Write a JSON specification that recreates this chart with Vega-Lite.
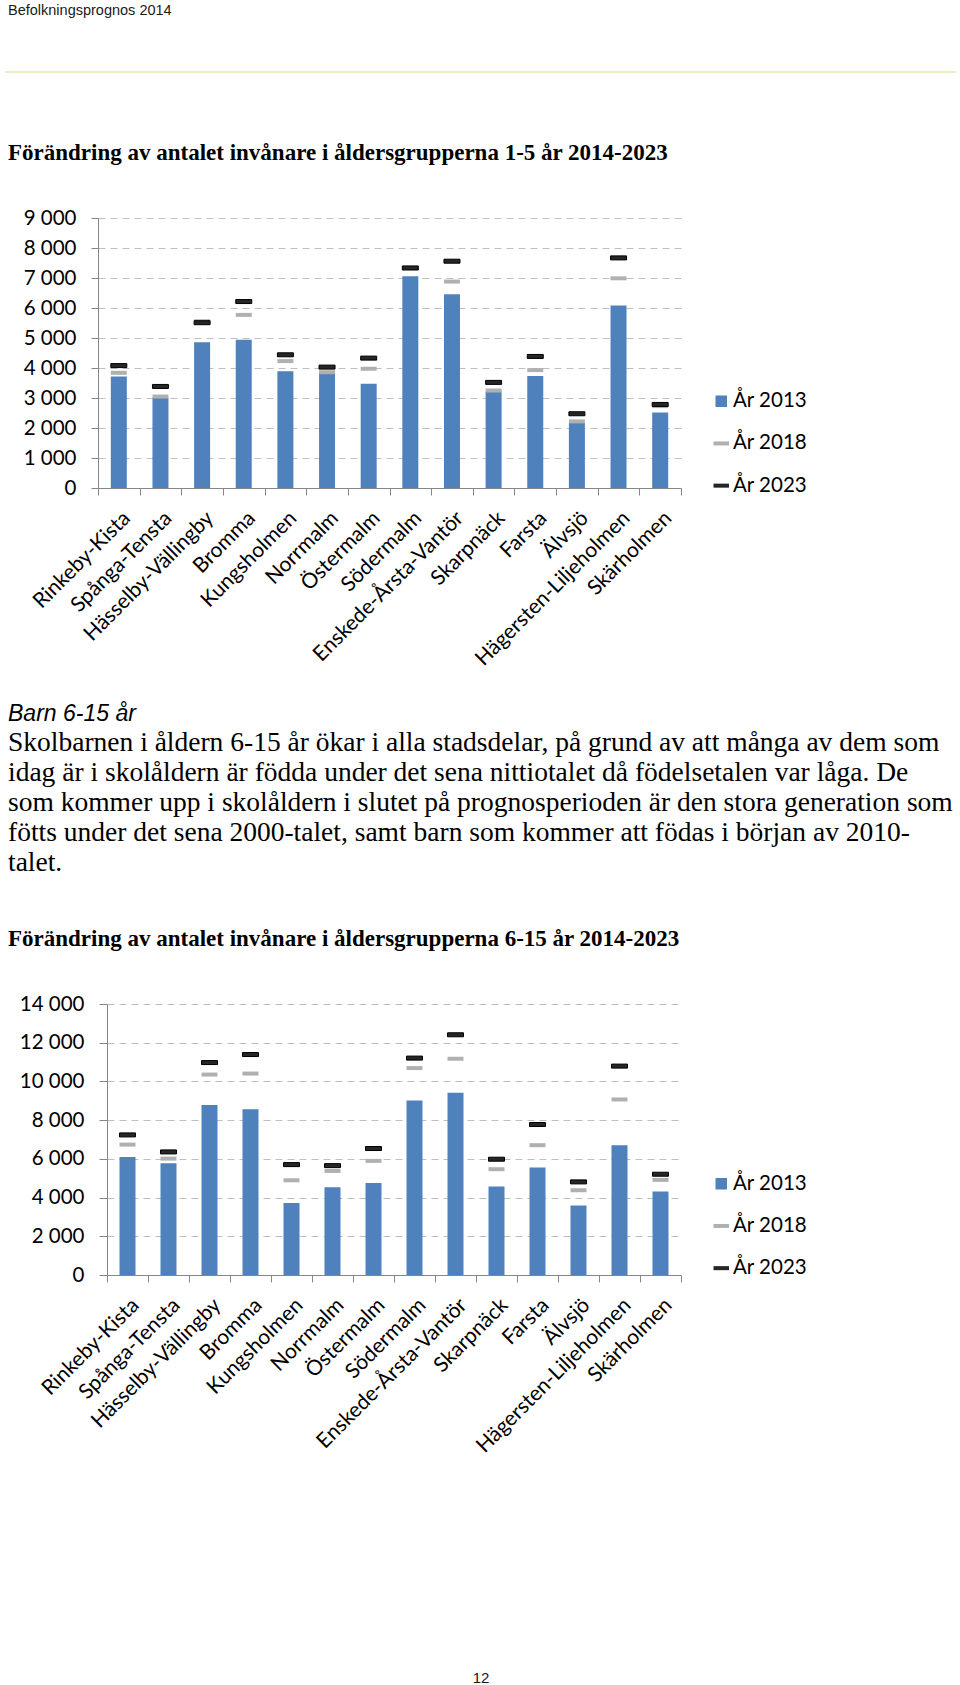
{
  "$schema": "https://vega.github.io/schema/vega-lite/v6.json",
  "background": "white",
  "padding": {"left": 4, "top": 3, "right": 0, "bottom": 0},
  "spacing": 0,
  "config": {"view": {"stroke": null}, "concat": {"spacing": 0}},
  "resolve": {"scale": {"color": "independent", "x": "independent", "y": "independent"}, "legend": {"color": "independent"}},
  "datasets": {
    "d1": [
      {"d": "Rinkeby-Kista", "y13": 3720, "y18": 3840, "y23": 4080},
      {"d": "Spånga-Tensta", "y13": 3000, "y18": 3050, "y23": 3385},
      {"d": "Hässelby-Vällingby", "y13": 4860, "y18": 5560, "y23": 5510},
      {"d": "Bromma", "y13": 4940, "y18": 5770, "y23": 6215},
      {"d": "Kungsholmen", "y13": 3895, "y18": 4230, "y23": 4440},
      {"d": "Norrmalm", "y13": 3880, "y18": 3860, "y23": 4030},
      {"d": "Östermalm", "y13": 3475, "y18": 3975, "y23": 4330},
      {"d": "Södermalm", "y13": 7060, "y18": 7320, "y23": 7335},
      {"d": "Enskede-Årsta-Vantör", "y13": 6460, "y18": 6880, "y23": 7560},
      {"d": "Skarpnäck", "y13": 3220, "y18": 3250, "y23": 3520},
      {"d": "Farsta", "y13": 3730, "y18": 3930, "y23": 4385},
      {"d": "Älvsjö", "y13": 2170, "y18": 2220, "y23": 2475},
      {"d": "Hägersten-Liljeholmen", "y13": 6080, "y18": 6990, "y23": 7670},
      {"d": "Skärholmen", "y13": 2520, "y18": 2730, "y23": 2785}
    ],
    "d2": [
      {"d": "Rinkeby-Kista", "y13": 6100, "y18": 6737, "y23": 7237},
      {"d": "Spånga-Tensta", "y13": 5772, "y18": 6013, "y23": 6358},
      {"d": "Hässelby-Vällingby", "y13": 8787, "y18": 10355, "y23": 10975},
      {"d": "Bromma", "y13": 8563, "y18": 10407, "y23": 11389},
      {"d": "Kungsholmen", "y13": 3722, "y18": 4893, "y23": 5703},
      {"d": "Norrmalm", "y13": 4531, "y18": 5376, "y23": 5651},
      {"d": "Östermalm", "y13": 4758, "y18": 5896, "y23": 6534},
      {"d": "Södermalm", "y13": 9017, "y18": 10689, "y23": 11206},
      {"d": "Enskede-Årsta-Vantör", "y13": 9413, "y18": 11172, "y23": 12410},
      {"d": "Skarpnäck", "y13": 4569, "y18": 5465, "y23": 5982},
      {"d": "Farsta", "y13": 5551, "y18": 6706, "y23": 7775},
      {"d": "Älvsjö", "y13": 3586, "y18": 4379, "y23": 4810},
      {"d": "Hägersten-Liljeholmen", "y13": 6706, "y18": 9068, "y23": 10792},
      {"d": "Skärholmen", "y13": 4310, "y18": 4913, "y23": 5206}
    ]
  },
  "vconcat": [
    {
      "width": 858, "height": 70,
      "title": {"text": "Befolkningsprognos 2014", "anchor": "start", "frame": "group", "dx": -90, "font": "Liberation Sans", "fontSize": 14.5, "fontWeight": "normal", "color": "#1a1a1a", "offset": 52.7},
      "data": {"values": [{"v": 1}]},
      "mark": {"type": "rule", "color": "#E2DC8C", "strokeWidth": 1.2},
      "encoding": {
        "x": {"datum": -0.1084, "type": "quantitative", "scale": {"domain": [0, 1], "nice": false, "zero": false}, "axis": null},
        "x2": {"datum": 1},
        "y": {"field": "v", "type": "quantitative", "scale": {"domain": [0, 1]}, "axis": null}
      }
    },
    {
      "width": 583, "height": 270,
      "title": {"text": "Förändring av antalet invånare i åldersgrupperna 1-5 år 2014-2023", "anchor": "start", "frame": "group", "dx": -90, "font": "Liberation Serif", "fontSize": 23, "fontWeight": "bold", "color": "black", "offset": 43},
      "data": {"name": "d1"},
      "encoding": {
        "x": {"field": "d", "type": "nominal", "sort": null, "scale": {"paddingInner": 0, "paddingOuter": 0},
          "axis": {"title": null, "labelAngle": -45, "labelFont": "Lato", "labelFontSize": 21, "labelColor": "black", "tickBand": "extent", "tickSize": 7, "tickColor": "#868686", "domainColor": "#868686", "labelPadding": 12, "grid": false, "labelLimit": 0}}
      },
      "layer": [
        {
          "mark": {"type": "bar", "width": 16, "opacity": 1},
          "encoding": {
            "y": {"field": "y13", "type": "quantitative", "scale": {"domain": [0, 9000], "nice": false},
              "axis": {"title": null, "values": [0, 1000, 2000, 3000, 4000, 5000, 6000, 7000, 8000, 9000], "labelOverlap": false, "labelExpr": "replace(format(datum.value, ','), ',', ' ')", "labelFont": "Lato", "labelFontSize": 20.5, "labelColor": "black", "labelPadding": 15, "tickSize": 7, "tickColor": "#868686", "domainColor": "#868686", "grid": true, "gridColor": "#BFBFBF", "gridDash": [7, 5], "minExtent": 93}},
            "color": {"datum": "År 2013", "type": "nominal",
              "scale": {"domain": ["År 2013", "År 2018", "År 2023"], "range": ["#4F81BD", "#B0B0B0", "#262626"]},
              "legend": {"orient": "none", "legendX": 613, "legendY": 173, "title": null, "labelFont": "Lato", "labelFontSize": 20.5, "labelColor": "black", "symbolSize": 132, "symbolOpacity": 1, "rowPadding": 21.2, "labelOffset": 1.5, "padding": 0, "symbolStrokeWidth": 0,
                "encode": {"symbols": {"update": {"shape": {"signal": "datum.value === 'År 2013' ? 'square' : 'M-1.35,-0.35H1.35V0.35H-1.35Z'"}}}}}}
          }
        },
        {
          "mark": {"type": "tick", "size": 16, "thickness": 4, "opacity": 1},
          "encoding": {
            "y": {"field": "y18", "type": "quantitative",
              "axis": {"title": null, "values": [0, 1000, 2000, 3000, 4000, 5000, 6000, 7000, 8000, 9000], "labelOverlap": false, "labelExpr": "replace(format(datum.value, ','), ',', ' ')", "labelFont": "Lato", "labelFontSize": 20.5, "labelColor": "black", "labelPadding": 15, "tickSize": 7, "tickColor": "#868686", "domainColor": "#868686", "grid": true, "gridColor": "#BFBFBF", "gridDash": [7, 5], "minExtent": 93}},
            "color": {"datum": "År 2018", "type": "nominal"}}
        },
        {
          "mark": {"type": "tick", "size": 16, "thickness": 4, "opacity": 1, "stroke": "#000000", "strokeWidth": 1},
          "encoding": {
            "y": {"field": "y23", "type": "quantitative",
              "axis": {"title": null, "values": [0, 1000, 2000, 3000, 4000, 5000, 6000, 7000, 8000, 9000], "labelOverlap": false, "labelExpr": "replace(format(datum.value, ','), ',', ' ')", "labelFont": "Lato", "labelFontSize": 20.5, "labelColor": "black", "labelPadding": 15, "tickSize": 7, "tickColor": "#868686", "domainColor": "#868686", "grid": true, "gridColor": "#BFBFBF", "gridDash": [7, 5], "minExtent": 93}},
            "color": {"datum": "År 2023", "type": "nominal"}}
        }
      ]
    },
    {
      "width": 858, "height": 31.5,
      "data": {"values": []},
      "mark": "rule",
      "encoding": {}
    },
    {
      "width": 858, "height": 0,
      "title": {"text": "Barn 6-15 år", "subtitle": ["Skolbarnen i åldern 6-15 år ökar i alla stadsdelar, på grund av att många av dem som", "idag är i skolåldern är födda under det sena nittiotalet då födelsetalen var låga. De", "som kommer upp i skolåldern i slutet på prognosperioden är den stora generation som", "fötts under det sena 2000-talet, samt barn som kommer att födas i början av 2010-", "talet."],
        "anchor": "start", "frame": "group", "dx": -90, "font": "Liberation Sans", "fontStyle": "italic", "fontWeight": "normal", "fontSize": 23, "color": "black",
        "subtitleFont": "Liberation Serif", "subtitleFontSize": 27.5, "subtitleLineHeight": 30.2, "subtitleColor": "black", "subtitlePadding": 3, "offset": 31},
      "data": {"values": []},
      "mark": "rule",
      "encoding": {}
    },
    {
      "width": 583, "height": 271,
      "title": {"text": "Förändring av antalet invånare i åldersgrupperna 6-15 år 2014-2023", "anchor": "start", "frame": "group", "dx": -90, "font": "Liberation Serif", "fontSize": 23, "fontWeight": "bold", "color": "black", "offset": 43},
      "data": {"name": "d2"},
      "encoding": {
        "x": {"field": "d", "type": "nominal", "sort": null, "scale": {"paddingInner": 0, "paddingOuter": 0, "rangeMin": 9},
          "axis": {"title": null, "labelAngle": -45, "labelFont": "Lato", "labelFontSize": 21, "labelColor": "black", "tickBand": "extent", "tickSize": 7, "tickColor": "#868686", "domainColor": "#868686", "labelPadding": 12, "grid": false, "labelLimit": 0}}
      },
      "layer": [
        {
          "mark": {"type": "bar", "width": 16, "opacity": 1},
          "encoding": {
            "y": {"field": "y13", "type": "quantitative", "scale": {"domain": [0, 14000], "nice": false},
              "axis": {"title": null, "offset": -9, "values": [0, 2000, 4000, 6000, 8000, 10000, 12000, 14000], "labelOverlap": false, "labelExpr": "replace(format(datum.value, ','), ',', ' ')", "labelFont": "Lato", "labelFontSize": 20.5, "labelColor": "black", "labelPadding": 15, "tickSize": 8, "tickColor": "#868686", "domainColor": "#868686", "grid": true, "gridColor": "#BFBFBF", "gridDash": [7, 5], "minExtent": 93}},
            "color": {"datum": "År 2013", "type": "nominal",
              "scale": {"domain": ["År 2013", "År 2018", "År 2023"], "range": ["#4F81BD", "#B0B0B0", "#262626"]},
              "legend": {"orient": "none", "legendX": 613, "legendY": 169.5, "title": null, "labelFont": "Lato", "labelFontSize": 20.5, "labelColor": "black", "symbolSize": 132, "symbolOpacity": 1, "rowPadding": 21.2, "labelOffset": 1.5, "padding": 0, "symbolStrokeWidth": 0,
                "encode": {"symbols": {"update": {"shape": {"signal": "datum.value === 'År 2013' ? 'square' : 'M-1.35,-0.35H1.35V0.35H-1.35Z'"}}}}}}
          }
        },
        {
          "mark": {"type": "tick", "size": 16, "thickness": 4, "opacity": 1},
          "encoding": {
            "y": {"field": "y18", "type": "quantitative",
              "axis": {"title": null, "offset": -9, "values": [0, 2000, 4000, 6000, 8000, 10000, 12000, 14000], "labelOverlap": false, "labelExpr": "replace(format(datum.value, ','), ',', ' ')", "labelFont": "Lato", "labelFontSize": 20.5, "labelColor": "black", "labelPadding": 15, "tickSize": 8, "tickColor": "#868686", "domainColor": "#868686", "grid": true, "gridColor": "#BFBFBF", "gridDash": [7, 5], "minExtent": 93}},
            "color": {"datum": "År 2018", "type": "nominal"}}
        },
        {
          "mark": {"type": "tick", "size": 16, "thickness": 4, "opacity": 1, "stroke": "#000000", "strokeWidth": 1},
          "encoding": {
            "y": {"field": "y23", "type": "quantitative",
              "axis": {"title": null, "offset": -9, "values": [0, 2000, 4000, 6000, 8000, 10000, 12000, 14000], "labelOverlap": false, "labelExpr": "replace(format(datum.value, ','), ',', ' ')", "labelFont": "Lato", "labelFontSize": 20.5, "labelColor": "black", "labelPadding": 15, "tickSize": 8, "tickColor": "#868686", "domainColor": "#868686", "grid": true, "gridColor": "#BFBFBF", "gridDash": [7, 5], "minExtent": 93}},
            "color": {"datum": "År 2023", "type": "nominal"}}
        }
      ]
    },
    {
      "width": 858, "height": 213.3,
      "data": {"values": []},
      "mark": "rule",
      "encoding": {}
    },
    {
      "width": 858, "height": 0,
      "title": {"text": "12", "anchor": "middle", "frame": "group", "dx": -46, "font": "Liberation Sans", "fontSize": 15, "fontWeight": "normal", "color": "#1a1a1a", "offset": 0},
      "data": {"values": []},
      "mark": "rule",
      "encoding": {}
    }
  ]
}
